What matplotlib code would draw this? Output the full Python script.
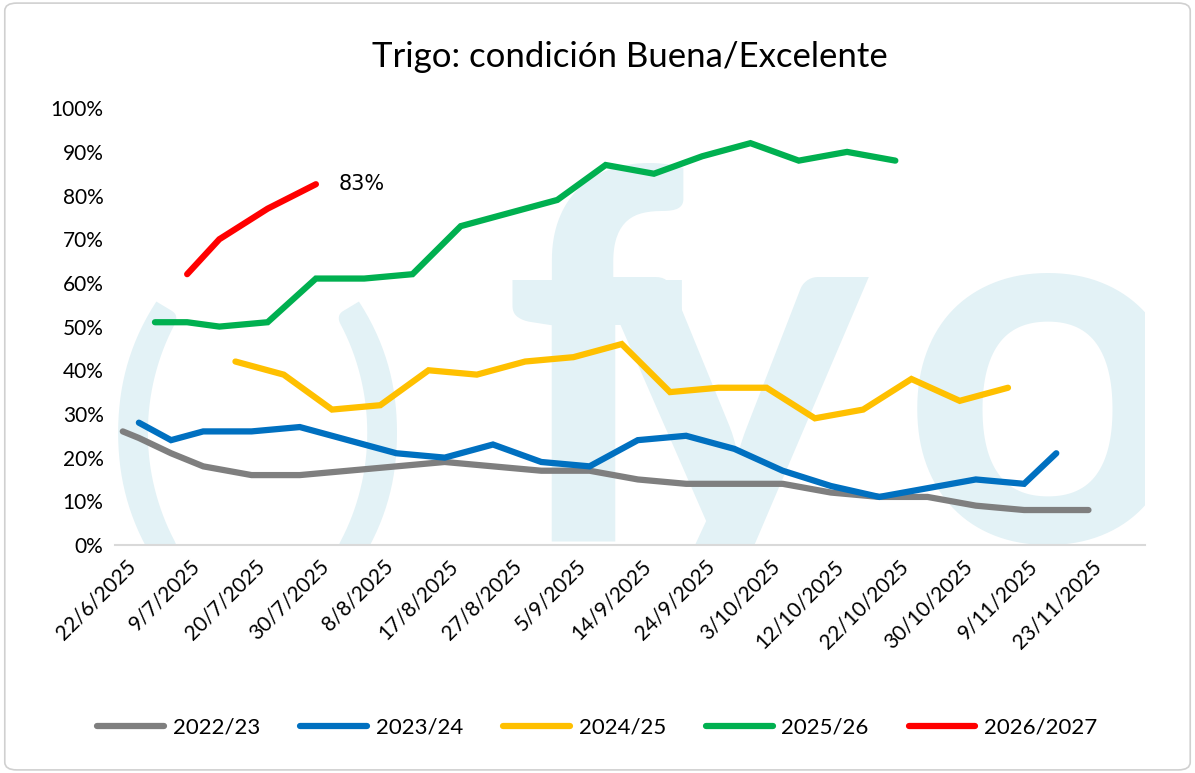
import matplotlib
matplotlib.use("Agg")
import matplotlib.pyplot as plt
from matplotlib.patches import FancyBboxPatch

labels = ["22/6/2025","9/7/2025","20/7/2025","30/7/2025","8/8/2025","17/8/2025","27/8/2025",
          "5/9/2025","14/9/2025","24/9/2025","3/10/2025","12/10/2025","22/10/2025","30/10/2025",
          "9/11/2025","23/11/2025"]

x_2223 = [-0.375,-0.125,0.375,0.875,1.625,2.375,3.125,3.875,4.625,5.375,6.125,6.875,7.625,8.375,
          9.125,9.875,10.625,11.375,12.125,12.875,13.625,14.625]
y_2223 = [26,24.5,21,18,16,16,17,18,19,18,17,17,15,14,14,14,12,11,11,9,8,8]

x_2324 = [-0.125,0.375,0.875,1.625,2.375,3.125,3.875,4.625,5.375,6.125,6.875,7.625,8.375,9.125,
          9.875,10.625,11.375,12.125,12.875,13.625,14.125]
y_2324 = [28,24,26,26,27,24,21,20,23,19,18,24,25,22,17,13.5,11,13,15,14,21]

x_2425 = [1.375,2.125,2.875,3.625,4.375,5.125,5.875,6.625,7.375,8.125,8.875,9.625,10.375,11.125,
          11.875,12.625,13.375]
y_2425 = [42,39,31,32,40,39,42,43,46,35,36,36,29,31,38,33,36]

x_2526 = [0.125,0.625,1.125,1.875,2.625,3.375,4.125,4.875,5.625,6.375,7.125,7.875,8.625,9.375,
          10.125,10.875,11.625]
y_2526 = [51,51,50,51,61,61,62,73,76,79,87,85,89,92,88,90,88]

x_2627 = [0.625,1.125,1.875,2.625]
y_2627 = [62,70,77,82.6]

series = [("2022/23", x_2223, y_2223, "#7f7f7f"),
          ("2023/24", x_2324, y_2324, "#0070c0"),
          ("2024/25", x_2425, y_2425, "#ffc000"),
          ("2025/26", x_2526, y_2526, "#00b050"),
          ("2026/2027", x_2627, y_2627, "#ff0000")]

plt.rcParams['font.family'] = ['Lato', 'DejaVu Sans']
fig = plt.figure(figsize=(11.95, 7.73), dpi=100)
fig.patches.append(FancyBboxPatch((0.004, 0.004), 0.992, 0.992, boxstyle="round,pad=0,rounding_size=0.01",
                                  transform=fig.transFigure, fill=False, edgecolor="#d0d0d0", lw=1.2))
ax = fig.add_axes([0.096, 0.295, 0.862, 0.565])
wm = "#e3f2f6"
kw = dict(color=wm, zorder=0, fontweight="bold", clip_on=True)
ax.text(-0.6, 25, "(", fontsize=200, ha="left", va="center", **kw)
ax.text(2.85, 25, ")", fontsize=200, ha="left", va="center", **kw)
ax.text(5.5, 1, "f", fontsize=370, ha="left", va="baseline", **kw)
ax.text(7.0, 1, "y", fontsize=370, ha="left", va="baseline", **kw)
ax.text(11.7, 1, "o", fontsize=370, ha="left", va="baseline", **kw)

for name, xs, ys, c in series:
    ax.plot(xs, ys, color=c, lw=4.5, solid_capstyle="round", solid_joinstyle="miter", label=name, zorder=3)
ax.text(x_2627[-1] + 0.35, y_2627[-1], "83%", fontsize=15, va="center", ha="left", family="DejaVu Sans", zorder=4)

ax.set_xlim(-0.5, 15.5)
ax.set_ylim(0, 100)
ax.set_yticks(range(0, 101, 10))
ax.set_yticklabels([f"{v}%" for v in range(0, 101, 10)], fontsize=15)
ax.set_xticks([i - 0.33 for i in range(len(labels))])
ax.set_xticklabels(labels, rotation=45, ha="right", rotation_mode="anchor", fontsize=15)
ax.tick_params(length=0, pad=8)
for s in ["top", "right", "left"]:
    ax.spines[s].set_visible(False)
ax.spines["bottom"].set_color("#d9d9d9")
ax.spines["bottom"].set_linewidth(1.5)
ax.set_title("Trigo: condición Buena/Excelente", fontsize=25, pad=30)
fig.legend(loc="lower center", bbox_to_anchor=(0.5, 0.02), ncol=5, frameon=False, fontsize=16,
           handlelength=3, columnspacing=1.8, handletextpad=0.4)
fig.savefig("out.png", dpi=100)
